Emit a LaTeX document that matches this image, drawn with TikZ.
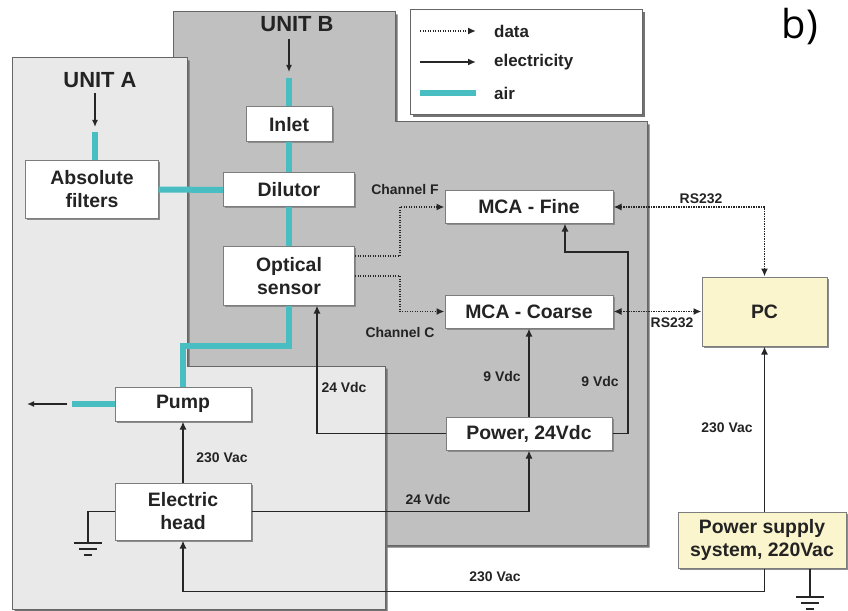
\documentclass[tikz,border=0pt]{standalone}
\usepackage{fontspec}
\setmainfont{Liberation Sans}
\newfontfamily\labfont{Open Sans}
\usetikzlibrary{arrows.meta,shadows}

\definecolor{aircol}{RGB}{72,190,195}
\definecolor{unitAcol}{RGB}{233,233,233}
\definecolor{unitBcol}{RGB}{192,192,192}
\definecolor{pcfill}{RGB}{251,245,205}
\definecolor{boxline}{RGB}{125,125,125}
\definecolor{txt}{RGB}{35,35,35}

\tikzset{
  blk/.style={draw=boxline, line width=1bp, fill=white, text=txt,
    font=\fontsize{19.5}{23}\selectfont\bfseries, align=center, inner sep=0pt,
    drop shadow={shadow xshift=1.5bp, shadow yshift=-1.5bp, fill=black!45, opacity=1}},
  ylw/.style={blk, fill=pcfill},
  unitshape/.style={draw=black!60, line width=1bp,
    drop shadow={shadow xshift=2.5bp, shadow yshift=-2.5bp, fill=black!55, opacity=1}},
  airline/.style={draw=aircol, line width=6bp, line join=miter},
  elec/.style={draw=black!85, line width=1.8bp, -{Latex[length=8bp,width=7bp]}},
  eline/.style={draw=black!85, line width=1.8bp},
  dataline/.style={draw=black!85, line width=1.8bp, dash pattern=on 1.4bp off 1.1bp},
  datatip/.style={-{Latex[length=8bp,width=7bp]}},
  databoth/.style={{Latex[length=8bp,width=7bp]}-{Latex[length=8bp,width=7bp]}},
  small/.style={text=txt, font=\fontsize{14}{16}\selectfont\bfseries, inner sep=0pt},
  unitlbl/.style={text=txt, font=\fontsize{22}{24}\selectfont\bfseries, inner sep=0pt},
  leglbl/.style={text=txt, font=\fontsize{17}{19}\selectfont\bfseries, inner sep=0pt, anchor=west},
  gnd/.style={draw=black!85, line width=1.8bp},
}

\begin{document}
\begin{tikzpicture}[x=1bp,y=-1bp]
\useasboundingbox (0,0) rectangle (848,611);

% units
\path[unitshape, fill=unitBcol] (173,12) -- (395,12) -- (395,122) -- (647,122) -- (647,545) -- (173,545) -- cycle;
\path[unitshape, fill=unitAcol] (12,58) -- (187,58) -- (187,366) -- (385,366) -- (385,609) -- (12,609) -- cycle;

% legend
\node[draw=black!60, line width=1bp, fill=white, minimum width=232bp, minimum height=105bp, inner sep=0pt,
  drop shadow={shadow xshift=2.5bp, shadow yshift=-2.5bp, fill=black!55, opacity=1}] (legend) at (526,62.5) {};
\coordinate (l1a) at (420,31); \coordinate (l1b) at (476,31);
\coordinate (l2a) at (420,62); \coordinate (l2b) at (476,62);
\coordinate (l3a) at (420,93); \coordinate (l3b) at (476,93);
\draw[dataline, datatip] (l1a) -- (l1b);
\draw[elec] (l2a) -- (l2b);
\draw[airline] (l3a) -- (l3b);
\node[leglbl] (tdata) at (494,31) {data};
\node[leglbl] (telec) at (494,62) {electricity};
\node[leglbl] (tair) at (494,93) {air};

% b)
\node[font=\labfont\fontsize{40}{44}\selectfont, inner sep=0pt] (blabel) at (800,27) {b)};

% unit labels
\node[unitlbl] (uA) at (100,80) {UNIT A};
\node[unitlbl] (uB) at (297,24) {UNIT B};

% boxes
\node[blk, minimum width=132bp, minimum height=57bp] (absf) at (92,189.5) {Absolute\\filters};
\node[blk, minimum width=86bp, minimum height=35bp] (inlet) at (289,124.5) {Inlet};
\node[blk, minimum width=131bp, minimum height=34bp] (dil) at (289,190) {Dilutor};
\node[blk, minimum width=131bp, minimum height=58bp] (opt) at (289,276) {Optical\\sensor};
\node[blk, minimum width=168bp, minimum height=32bp] (fine) at (529,207) {MCA - Fine};
\node[blk, minimum width=168bp, minimum height=33bp] (coarse) at (529,311.5) {MCA - Coarse};
\node[blk, minimum width=166bp, minimum height=33bp] (power) at (529,433.5) {Power, 24Vdc};
\node[ylw, minimum width=125bp, minimum height=69bp] (pc) at (764.5,311.5) {PC};
\node[ylw, minimum width=168bp, minimum height=56bp] (psu) at (762,540) {Power supply\\system, 220Vac};
\node[blk, minimum width=136bp, minimum height=34bp] (pump) at (183,404) {Pump};
\node[blk, minimum width=136bp, minimum height=57bp] (ehead) at (183,511.5) {Electric\\head};

% air
\coordinate (aInA) at (95,93);
\coordinate (aInAe) at (95,127);
\coordinate (aTealA) at (95,132);
\draw[elec, line width=1.3bp, -{Latex[length=7bp,width=6bp]}] (aInA) -- (aInAe);
\draw[airline] (aTealA) -- (aTealA |- absf.north);
\coordinate (aInB) at (289,39);
\coordinate (aInBe) at (289,72);
\coordinate (aTealB) at (289,78);
\draw[elec, line width=1.3bp, -{Latex[length=7bp,width=6bp]}] (aInB) -- (aInBe);
\draw[airline] (aTealB) -- (inlet.north);
\draw[airline] (inlet.south) -- (dil.north);
\draw[airline] (dil.south) -- (opt.north);
\draw[airline] (absf.east) -- (dil.west);
\coordinate (airturn) at (183,346);
\draw[airline] (opt.south) |- (airturn) -- (pump.north);
\coordinate (pumpout) at (72,404);
\coordinate (exhA) at (67,404);
\coordinate (exhB) at (27,404);
\draw[airline] (pump.west) -- (pumpout);
\draw[elec, line width=1.3bp, -{Latex[length=7bp,width=6bp]}] (exhA) -- (exhB);

% data
\coordinate (chx) at (400,0);
\draw[dataline, datatip] ([yshift=20bp]opt.east) -| (chx |- fine.west) -- (fine.west);
\draw[dataline, datatip] (opt.east) -| (chx |- coarse.west) -- (coarse.west);
\draw[dataline, databoth] (fine.east) -| (pc.north);
\draw[dataline, databoth] (coarse.east) -- (pc.west);
\node[small] (chF) at (405,190) {Channel F};
\node[small] (chC) at (400,333) {Channel C};
\node[small] (rs1) at (701,199) {RS232};
\node[small] (rs2) at (672,323) {RS232};

% electricity
\draw[elec] (power.west) -| ([xshift=28bp]opt.south);
\draw[elec] (power.north) -- (coarse.south);
\coordinate (finebend) at (628,252);
\draw[elec] (power.east) -| (finebend) -| ([xshift=36bp]fine.south);
\draw[elec] (ehead.north) -- (pump.south);
\draw[elec] (ehead.east) -| (power.south);
\draw[elec] (psu.north -| pc.south) -- (pc.south);
\draw[elec] (psu.south -| pc.south) -- ++(0,23) -| (ehead.south);
\node[small] (v1) at (344,388) {24 Vdc};
\node[small] (v2) at (502,377) {9 Vdc};
\node[small] (v3) at (600,382) {9 Vdc};
\node[small] (v4) at (222,458) {230 Vac};
\node[small] (v5) at (428,500) {24 Vdc};
\node[small] (v6) at (495,577) {230 Vac};
\node[small] (v7) at (727,428) {230 Vac};

% grounds
\coordinate (g1) at (88,543);
\draw[eline] (ehead.west) -| (g1);
\draw[gnd] ([xshift=-14bp]g1) -- ([xshift=14bp]g1);
\draw[gnd] ([xshift=-9bp,yshift=-6bp]g1) -- ([xshift=9bp,yshift=-6bp]g1);
\draw[gnd] ([xshift=-4bp,yshift=-12bp]g1) -- ([xshift=4bp,yshift=-12bp]g1);
\coordinate (g2) at (810,597);
\draw[eline] (psu.south -| g2) -- (g2);
\draw[gnd] ([xshift=-14bp]g2) -- ([xshift=14bp]g2);
\draw[gnd] ([xshift=-9bp,yshift=-6bp]g2) -- ([xshift=9bp,yshift=-6bp]g2);
\draw[gnd] ([xshift=-4bp,yshift=-12bp]g2) -- ([xshift=4bp,yshift=-12bp]g2);
\end{tikzpicture}
\end{document}
